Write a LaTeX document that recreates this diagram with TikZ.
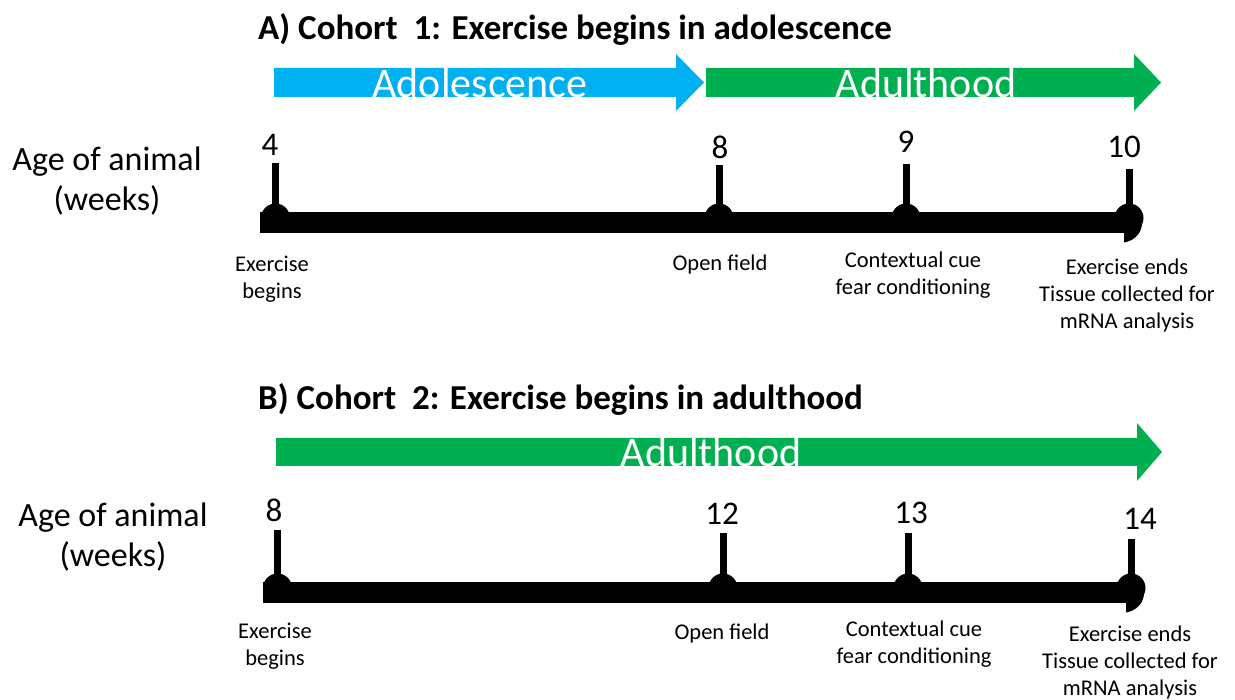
\documentclass[tikz,border=0pt]{standalone}
\usepackage{fontspec}
\setmainfont{Carlito}
\begin{document}
\begin{tikzpicture}[x=1pt,y=-1pt,
  title/.style={anchor=base west,font=\fontsize{35}{40}\selectfont\bfseries,inner sep=0},
  bandtext/.style={text=white,font=\fontsize{42}{44}\selectfont,inner sep=0},
  agetext/.style={align=center,font=\fontsize{34}{40}\selectfont,inner sep=0},
  num/.style={font=\fontsize{33}{36}\selectfont,inner sep=0},
  evtext/.style={align=center,font=\fontsize{22.5}{27}\selectfont,inner sep=0},
  bar/.style={line width=21pt},
  tickbar/.style={line width=7pt},
]
\useasboundingbox (0,0) rectangle (1235,700);
\definecolor{adoblue}{HTML}{00B0F0}
\definecolor{adugreen}{HTML}{00B050}

% ---------- A ----------
\node[title] (tA) at (258,40) {A)\ Cohort\ \ 1: Exercise begins in adolescence};
\fill[adoblue] (274,68) -- (676,68) -- (676,54) -- (704,82.5) -- (676,111) -- (676,97) -- (274,97) -- cycle;
\fill[adugreen] (706,68) -- (1134,68) -- (1134,54) -- (1161,82.5) -- (1134,111) -- (1134,97) -- (706,97) -- cycle;
\node[bandtext] (adoA) at (480,83) {Adolescence};
\node[bandtext] (aduA) at (926,83) {Adulthood};

\node[agetext] (ageA) at (107,181) {Age of animal\\(weeks)};

\coordinate (a0) at (260,222.5);
\coordinate (a1) at (275.5,222.5);
\coordinate (a2) at (719,222.5);
\coordinate (a3) at (906,222.5);
\coordinate (a4) at (1129,222.5);
\draw[bar] (a0) -- (a4);
\fill (a4) ++(-5,-16) .. controls +(24,0) and +(24,-4) .. ++(0,36) -- cycle;
\foreach \p/\t in {a1/163,a2/165,a3/164,a4/169}{
  \fill (\p) ++(0,-4.5) circle (14.5);
  \draw[tickbar] (\p) -- (\p |- 0,\t);
}
\node[num] (n4) at (270,145) {4};
\node[num] (n8) at (720,147) {8};
\node[num] (n9) at (906,142) {9};
\node[num] (n10) at (1124,147) {10};

\node[evtext,anchor=north] (eA1) at (272,256) {Exercise\\begins};
\node[evtext,anchor=north] (eA2) at (720,255) {Open field};
\node[evtext,anchor=north] (eA3) at (913,252) {Contextual cue\\fear conditioning};
\node[evtext,anchor=north] (eA4) at (1127,259) {Exercise ends\\Tissue collected for\\mRNA analysis};

% ---------- B ----------
\node[title] (tB) at (258,410) {B)\ Cohort\ \ 2: Exercise begins in adulthood};
\fill[adugreen] (276,438) -- (1137,438) -- (1137,423) -- (1162,452) -- (1137,481) -- (1137,466) -- (276,466) -- cycle;
\node[bandtext] (aduB) at (711,452) {Adulthood};

\node[agetext] (ageB) at (113,537) {Age of animal\\(weeks)};

\coordinate (b0) at (263,592.5);
\coordinate (b1) at (277.5,592.5);
\coordinate (b2) at (723,592.5);
\coordinate (b3) at (908,592.5);
\coordinate (b4) at (1131,592.5);
\draw[bar] (b0) -- (b4);
\fill (b4) ++(-5,-16) .. controls +(24,0) and +(24,-4) .. ++(0,36) -- cycle;
\foreach \p/\t in {b1/530,b2/533,b3/533,b4/539}{
  \fill (\p) ++(0,-4.5) circle (14.5);
  \draw[tickbar] (\p) -- (\p |- 0,\t);
}
\node[num] (m8) at (274,510) {8};
\node[num] (m12) at (722,514) {12};
\node[num] (m13) at (911,513) {13};
\node[num] (m14) at (1140,519) {14};

\node[evtext,anchor=north] (eB1) at (275,623) {Exercise\\begins};
\node[evtext,anchor=north] (eB2) at (722,624) {Open field};
\node[evtext,anchor=north] (eB3) at (914,621) {Contextual cue\\fear conditioning};
\node[evtext,anchor=north] (eB4) at (1130,626) {Exercise ends\\Tissue collected for\\mRNA analysis};
\end{tikzpicture}
\end{document}
